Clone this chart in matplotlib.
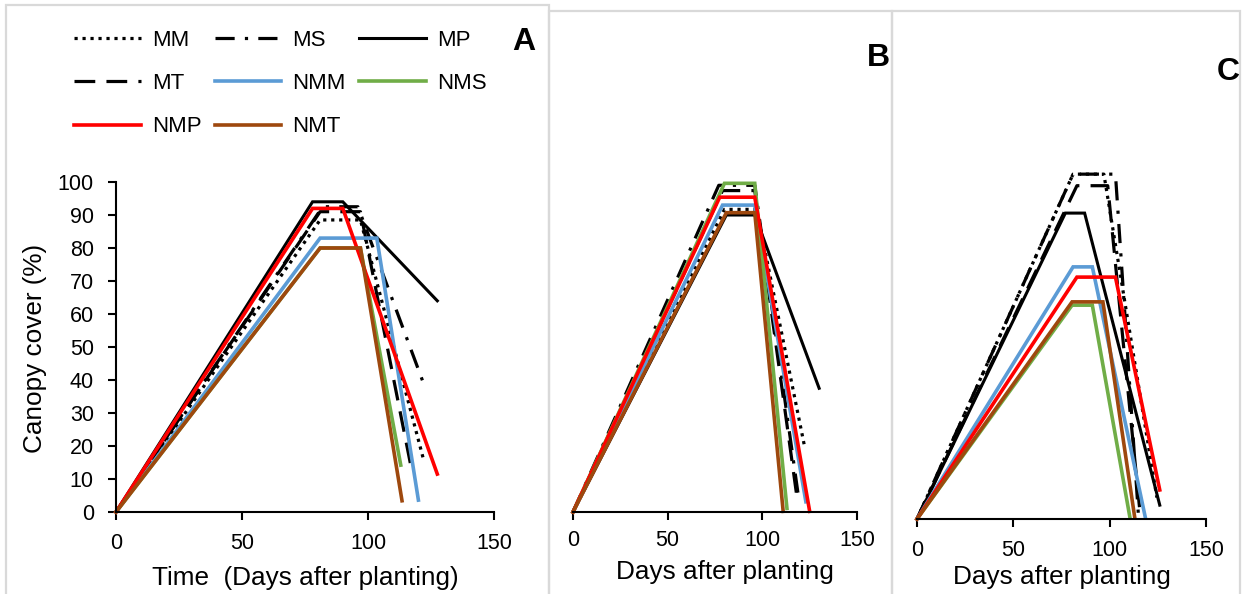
import numpy as np
import matplotlib
matplotlib.use('Agg')
import matplotlib.pyplot as plt
from matplotlib.patches import Rectangle

plt.rcParams['font.family'] = ['Liberation Sans', 'DejaVu Sans']

W, H = 1244, 594

#treatments, in plotting order
names = ['MM', 'MS', 'MP', 'MT', 'NMM', 'NMS', 'NMP', 'NMT']
colors = ['black', 'black', 'black', 'black', '#5B9BD5', '#70AD47', '#FF0000', '#9E480E']
styles = [(0, (1, 1.5)), (0, (6, 3.2, 1, 3.2)), '-', (0, (6.5, 3.5)), '-', '-', '-', '-']
widths = [2.3, 2.3, 2.2, 2.3, 2.6, 2.6, 2.6, 2.6]

#canopy cover curves: days after planting / cover (%)
#A
a_days = {
    'MM': [0, 81, 97, 122], 'MS': [0, 82, 96, 123], 'MP': [0, 78, 90, 127.5],
    'MT': [0, 81, 97, 117], 'NMM': [0, 81, 103.5, 120], 'NMS': [0, 81, 97, 113],
    'NMP': [0, 78, 90, 127.5], 'NMT': [0, 81, 97, 113.5]}
a_cc = {
    'MM': [0, 88.5, 88.5, 16], 'MS': [0, 92.5, 92.5, 37], 'MP': [0, 94, 94, 64],
    'MT': [0, 91, 91, 14], 'NMM': [0, 83, 83, 3.6], 'NMS': [0, 80, 80, 14.2],
    'NMP': [0, 92, 92, 11.5], 'NMT': [0, 80, 80, 3.4]}
#B
b_days = {
    'MM': [0, 80, 97, 122.5], 'MS': [0, 77, 96, 119], 'MP': [0, 81, 96, 130],
    'MT': [0, 79, 96, 118.5], 'NMM': [0, 79, 96, 123], 'NMS': [0, 80, 96, 113],
    'NMP': [0, 77.5, 96, 125], 'NMT': [0, 81, 96, 111]}
b_cc = {
    'MM': [0, 91.7, 91.7, 19.3], 'MS': [0, 99, 99, 5], 'MP': [0, 90, 90, 37.5],
    'MT': [0, 97.4, 97.4, 3.6], 'NMM': [0, 93, 93, 3.1], 'NMS': [0, 99.6, 99.6, 1.1],
    'NMP': [0, 95.4, 95.4, 0.2], 'NMT': [0, 90.7, 90.7, 0.2]}
#C
c_days = {
    'MM': [0, 81, 97, 124.5], 'MS': [0, 81, 103, 115], 'MP': [0, 77, 87, 126],
    'MT': [0, 83, 99, 116], 'NMM': [0, 81, 91, 118.5], 'NMS': [0, 80.5, 91, 110.5],
    'NMP': [0, 83, 103, 126], 'NMT': [0, 80.5, 96.5, 113]}
c_cc = {
    'MM': [0, 104.5, 104.5, 6.5], 'MS': [0, 104.5, 104.5, 0.5], 'MP': [0, 92.7, 92.7, 4.2],
    'MT': [0, 101, 101, 0.5], 'NMM': [0, 76.4, 76.4, 0.5], 'NMS': [0, 64.8, 64.8, 0.5],
    'NMP': [0, 73.3, 73.3, 8.8], 'NMT': [0, 65.8, 65.8, 0.5]}

xticks = [0, 50, 100, 150]
yticks = np.arange(0, 101, 10)

fig = plt.figure(figsize=(W / 100, H / 100), dpi=100)

# light grey frames round each panel
for x0, x1, top in [(6, 549, 5), (549, 892, 11), (892, 1240, 11)]:
    fig.add_artist(Rectangle((x0 / W, -0.1), (x1 - x0) / W, 1.1 - top / H,
                             transform=fig.transFigure, fill=False,
                             edgecolor='#d9d9d9', lw=1.6))


def make_axes(left, right, bottom, top_px, ymax, pad=9):
    # pixel box -> figure fraction
    ax = fig.add_axes([left / W, 1 - bottom / H, (right - left) / W, (bottom - top_px) / H])
    ax.set_xlim(0, 150)
    ax.set_ylim(0, ymax)
    ax.set_xticks(xticks)
    ax.tick_params(axis='x', direction='out', length=6, width=1.5, labelsize=15.5, pad=pad)
    for s in ['top', 'right']:
        ax.spines[s].set_visible(False)
    ax.spines['bottom'].set_linewidth(1.5)
    ax.patch.set_alpha(0)
    return ax


def draw(ax, days, cc):
    handles = {}
    for n, c, ls, lw in zip(names, colors, styles, widths):
        handles[n], = ax.plot(days[n], cc[n], color=c, linestyle=ls, lw=lw, label=n,
                              solid_joinstyle='miter', clip_on=False)
    return handles


px = 3.3  # pixels per % cover

axA = make_axes(116, 494, 512, 512 - 100 * px, 100)
axA.set_yticks(yticks)
axA.tick_params(axis='y', direction='out', length=6, width=1.5, labelsize=15.5, pad=10)
axA.spines['left'].set_linewidth(1.5)
hA = draw(axA, a_days, a_cc)
axA.set_xlabel('Time  (Days after planting)', fontsize=18.8, va='center')
axA.xaxis.set_label_coords(0.5, -66 / (100 * px))
axA.set_ylabel('Canopy cover (%)', fontsize=18.8, va='center')
axA.yaxis.set_label_coords((35 - 116) / 378, (512 - 348) / (100 * px))

axB = make_axes(573, 857, 512, 512 - 110 * px, 110, pad=7)
axB.spines['left'].set_visible(False)
axB.set_yticks([])
draw(axB, b_days, b_cc)
axB.set_xlabel('Days after planting', fontsize=18.8, va='center')
axB.xaxis.set_label_coords((725 - 573) / 284, -60 / (110 * px))

axC = make_axes(917, 1206, 519, 519 - 110 * px, 110)
axC.spines['left'].set_visible(False)
axC.set_yticks([])
draw(axC, c_days, c_cc)
axC.set_xlabel('Days after planting', fontsize=18.8, va='center')
axC.xaxis.set_label_coords(0.5, -58 / (110 * px))

# legend filled row by row: MM MS MP / MT NMM NMS / NMP NMT
order = ['MM', 'MT', 'NMP', 'MS', 'NMM', 'NMT', 'MP', 'NMS']
fig.legend([hA[n] for n in order], order, loc='upper left',
           bbox_to_anchor=(74 / W, 1 - 30 / H), ncol=3, frameon=False,
           fontsize=16, handlelength=3.0, handletextpad=0.5, columnspacing=0.6,
           labelspacing=1.0, borderpad=0, borderaxespad=0)

for letter, x, y in [('A', 524, 42), ('B', 878, 58), ('C', 1228, 72)]:
    fig.text(x / W, 1 - y / H, letter, fontsize=23, fontweight='bold',
             ha='center', va='center')

fig.savefig('out.png', dpi=100)
